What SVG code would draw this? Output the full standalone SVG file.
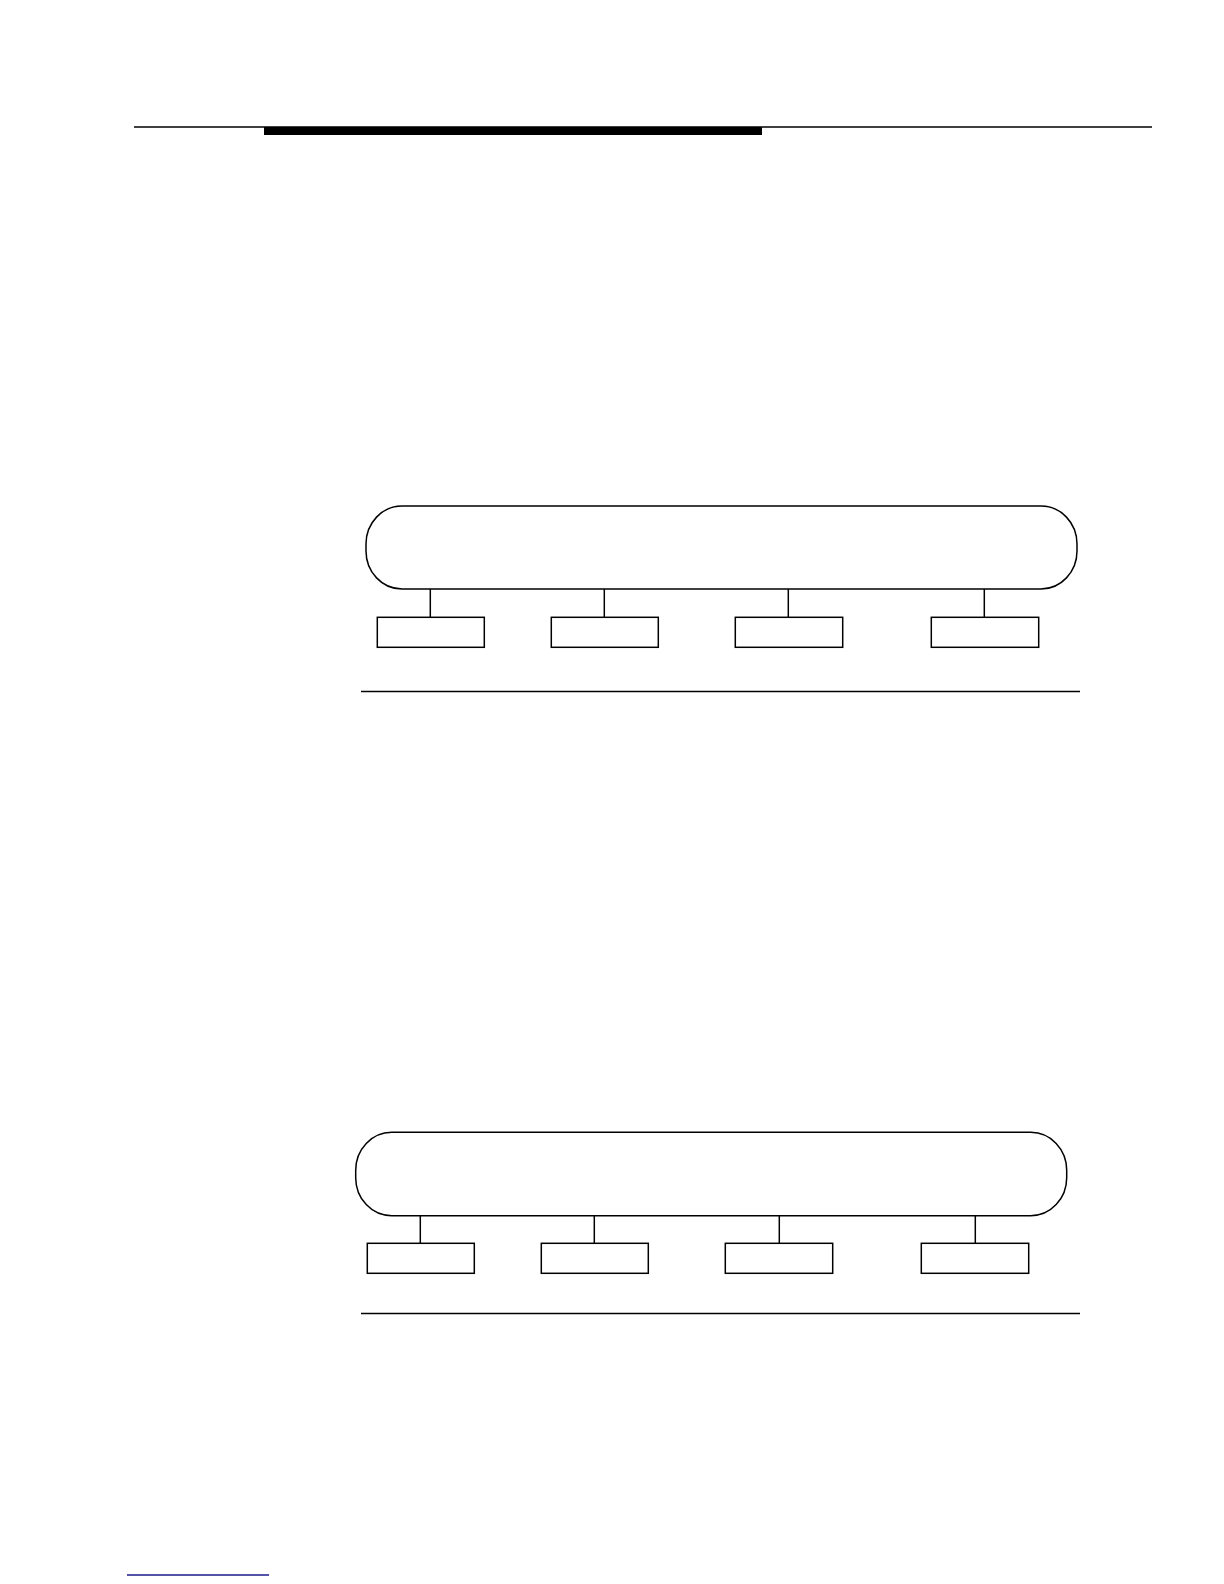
<svg xmlns="http://www.w3.org/2000/svg" width="1224" height="1584" viewBox="0 0 1224 1584">
<style>
.s{fill:none;stroke:#000;stroke-width:1.5}
.b{fill:#fff;stroke:#000;stroke-width:1.5}
.c{stroke:#000;stroke-width:1.5}
</style>
<rect width="1224" height="1584" fill="#fff"/>
<g id="header">
<line x1="134" y1="127" x2="1152" y2="127" class="c"/>
<rect x="264" y="127" width="498" height="8" fill="#000"/>
</g>
<g id="bus1"><rect x="366" y="506" width="711" height="83" rx="36" ry="38" class="b"/></g>
<g id="n1a"><rect x="377.3" y="617.3" width="107" height="30" class="b"/></g>
<g id="n1b"><rect x="551.3" y="617.3" width="107" height="30" class="b"/></g>
<g id="n1c"><rect x="735.3" y="617.3" width="107.4" height="30" class="b"/></g>
<g id="n1d"><rect x="931.3" y="617.3" width="107.4" height="30" class="b"/></g>
<g id="bus2"><rect x="355.7" y="1132.3" width="711" height="83.4" rx="36" ry="38" class="b"/></g>
<g id="n2a"><rect x="367.3" y="1243.3" width="107" height="30" class="b"/></g>
<g id="n2b"><rect x="541.3" y="1243.3" width="107" height="30" class="b"/></g>
<g id="n2c"><rect x="725.3" y="1243.3" width="107.4" height="30" class="b"/></g>
<g id="n2d"><rect x="921.3" y="1243.3" width="107.4" height="30" class="b"/></g>
<g id="connectors">
<line x1="430.3" y1="589" x2="430.3" y2="617.3" class="c"/>
<line x1="604.3" y1="589" x2="604.3" y2="617.3" class="c"/>
<line x1="788.3" y1="589" x2="788.3" y2="617.3" class="c"/>
<line x1="984.3" y1="589" x2="984.3" y2="617.3" class="c"/>
<line x1="420.3" y1="1215.7" x2="420.3" y2="1243.3" class="c"/>
<line x1="594.3" y1="1215.7" x2="594.3" y2="1243.3" class="c"/>
<line x1="779.3" y1="1215.7" x2="779.3" y2="1243.3" class="c"/>
<line x1="975.3" y1="1215.7" x2="975.3" y2="1243.3" class="c"/>
</g>
<g id="rules">
<line x1="361" y1="691.5" x2="1080" y2="691.5" class="c"/>
<line x1="361" y1="1313.5" x2="1080" y2="1313.5" class="c"/>
<line x1="127" y1="1575" x2="269" y2="1575" stroke="#1a1a8c" stroke-width="1.3"/>
</g>
</svg>
